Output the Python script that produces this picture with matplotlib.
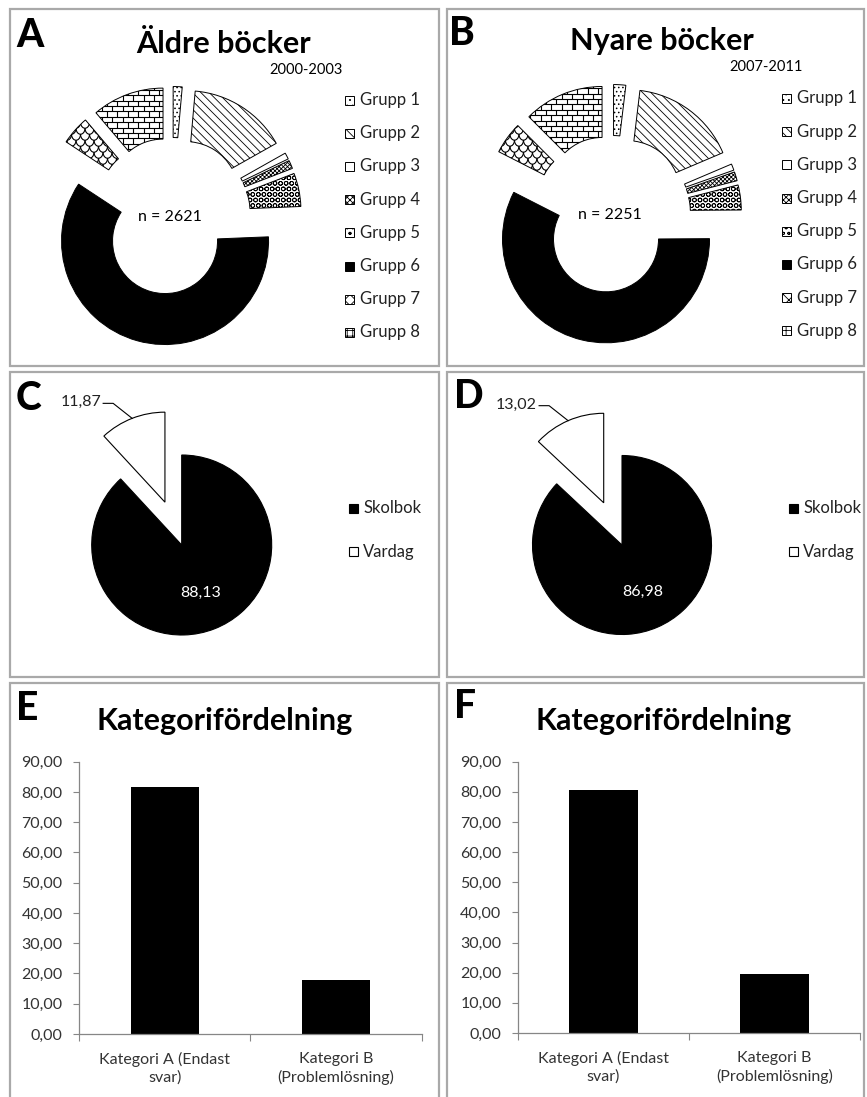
import numpy as np
import matplotlib
matplotlib.use("Agg")
import matplotlib.pyplot as plt
from matplotlib.patches import Rectangle
from matplotlib.collections import LineCollection

plt.rcParams['font.family'] = ['Lato', 'DejaVu Sans']
plt.rcParams['hatch.linewidth'] = 0.6

W, H = 867, 1097

# --- data ---
grupper = ['Grupp 1', 'Grupp 2', 'Grupp 3', 'Grupp 4',
           'Grupp 5', 'Grupp 6', 'Grupp 7', 'Grupp 8']
aldre = [1.4, 15.4, 1.0, 1.3, 5.2, 59.8, 4.5, 11.2]
nyare = [1.9, 16.7, 1.0, 1.4, 3.9, 57.6, 5.0, 12.5]
n_aldre = 2621
n_nyare = 2251

typer = ['Skolbok', 'Vardag']
typ_aldre = [88.13, 11.87]
typ_nyare = [86.98, 13.02]

kategorier = ['Kategori A (Endast\nsvar)', 'Kategori B\n(Problemlösning)']
kat_aldre = [81.7, 18.0]
kat_nyare = [80.5, 19.5]

# fill styles per group: (face, hatch); 'tegel' and 'fjall' are drawn by hand
stil = [('white', '....'), ('white', '\\\\\\\\'), ('white', ''), ('white', 'xxxxxxxx'),
        ('white', 'OOO'), ('black', ''), ('white', 'fjall'), ('white', 'tegel')]
legend_hatch = ['...', '\\\\\\\\', '', 'xxxxxx', 'ooo', '', 'xxx', '+++']

fig = plt.figure(figsize=(W / 100, H / 100), dpi=100)
ax = fig.add_axes([0, 0, 1, 1])


def Y(y):
    return H - y


# panel frames
rutor = [(10, 9, 439, 366), (447, 9, 864, 366),
         (10, 372, 439, 677), (447, 372, 864, 677),
         (10, 683, 439, 1100), (447, 683, 864, 1100)]
for x0, y0, x1, y1 in rutor:
    ax.add_patch(Rectangle((x0, Y(y1)), x1 - x0, y1 - y0, fill=False,
                           ec='#a9a9a9', lw=1.6, zorder=0))


def tegel(w, steg=5.4, bredd=10.5):
    cx, cy = w.center
    r = w.r
    segs = []
    for j, y in enumerate(np.arange(cy - r, cy + r, steg)):
        segs.append([(cx - r, y), (cx + r, y)])
        off = (j % 2) * bredd / 2
        for x in np.arange(cx - r + off, cx + r, bredd):
            segs.append([(x, y), (x, y + steg)])
    lc = LineCollection(segs, colors='black', linewidths=0.8, zorder=3)
    ax.add_collection(lc)
    lc.set_clip_path(w)


def fjall(w, steg=6.0, bredd=9.0):
    cx, cy = w.center
    r = w.r
    t = np.linspace(np.pi, 2 * np.pi, 10)
    segs = []
    for j, y in enumerate(np.arange(cy - r, cy + r, steg)):
        off = (j % 2) * bredd / 2
        for x in np.arange(cx - r + off, cx + r, bredd):
            segs.append(np.column_stack([x + bredd / 2 * np.cos(t),
                                         y + steg * np.sin(t)]))
    lc = LineCollection(segs, colors='black', linewidths=0.8, zorder=3)
    ax.add_collection(lc)
    lc.set_clip_path(w)


def munk(varden, cx, cy, n):
    wedges, _ = ax.pie(varden, radius=103.5, center=(cx, Y(cy)), startangle=90,
                       counterclock=False, explode=[26] * len(varden),
                       colors=[s[0] for s in stil], frame=True,
                       wedgeprops=dict(width=51, edgecolor='black', linewidth=0.7))
    for w, (_, h) in zip(wedges, stil):
        if h == 'tegel':
            tegel(w)
        elif h == 'fjall':
            fjall(w)
        elif h:
            w.set_hatch(h)
    # circles slice: dark ground with light rings where the patch supports it
    if hasattr(wedges[4], 'set_hatchcolor'):
        wedges[4].set_facecolor('#222222')
        wedges[4].set_hatch('OO')
        wedges[4].set_hatchcolor('white')
    ax.text(cx - 2, Y(cy + 1), f'n = {n}', ha='center', va='center', fontsize=11.5)


def grupp_legend(x, y0):
    for i, (g, (f, _)) in enumerate(zip(grupper, stil)):
        y = y0 + i * 33.2
        ax.add_patch(Rectangle((x, Y(y + 4.5)), 9, 9, fc=f, ec='black', lw=0.7,
                               hatch=legend_hatch[i]))
        ax.text(x + 15, Y(y), g, ha='left', va='center', fontsize=12, color='#222222')


def cirkel(varden, cx, cy, r, lx, ly):
    wedges, _ = ax.pie(varden, radius=r, center=(cx, Y(cy)), startangle=90,
                       counterclock=False, explode=[0, 46], colors=['black', 'white'],
                       frame=True, wedgeprops=dict(edgecolor='black', linewidth=0.8))
    stor, liten = wedges
    # value inside the big slice
    m = np.deg2rad((stor.theta1 + stor.theta2) / 2)
    ax.text(stor.center[0] + 0.57 * r * np.cos(m), stor.center[1] + 0.57 * r * np.sin(m),
            f'{varden[0]:.2f}'.replace('.', ','), color='white', fontsize=11.5,
            ha='center', va='center')
    # leader line to the detached slice
    m = np.deg2rad((liten.theta1 + liten.theta2) / 2)
    px = liten.center[0] + r * np.cos(m)
    py = liten.center[1] + r * np.sin(m)
    ax.plot([px, px - 19, px - 29], [py, py + 15, py + 15], color='black', lw=0.8)
    ax.text(px - 31, py + 16, f'{varden[1]:.2f}'.replace('.', ','), ha='right',
            va='center', fontsize=11.5, color='#222222')
    for i, (t, f) in enumerate(zip(typer, ['black', 'white'])):
        y = ly + i * 43.5
        ax.add_patch(Rectangle((lx, Y(y + 4.5)), 9, 9, fc=f, ec='black', lw=0.8))
        ax.text(lx + 14, Y(y), t, ha='left', va='center', fontsize=12, color='#222222')


# A and B: donuts
munk(aldre, 172, 216, n_aldre)
munk(nyare, 612, 214, n_nyare)
grupp_legend(345, 100)
grupp_legend(782, 98.5)
ax.text(224, Y(53), 'Äldre böcker', ha='center', va='baseline', fontsize=22,
        fontweight='bold')
ax.text(662, Y(50), 'Nyare böcker', ha='center', va='baseline', fontsize=22,
        fontweight='bold')
ax.text(306, Y(70), '2000-2003', ha='center', va='center', fontsize=10.5)
ax.text(766, Y(67), '2007-2011', ha='center', va='center', fontsize=10.5)

# C and D: pies
cirkel(typ_aldre, 181.7, 545, 90, 349, 508)
cirkel(typ_nyare, 622, 545, 89.5, 789, 508)

# panel letters
for bokstav, x, y in [('A', 16, 47), ('B', 449, 45), ('C', 16, 410),
                      ('D', 454, 408), ('E', 16, 720), ('F', 454, 718)]:
    ax.text(x, Y(y), bokstav, ha='left', va='baseline', fontsize=28,
            fontweight='black')

ax.set_xlim(0, W)
ax.set_ylim(0, H)
ax.axis('off')


# E and F: bar charts
def stapel(varden, x0, x1, ytop, ybot, tx):
    bx = fig.add_axes([x0 / W, 1 - ybot / H, (x1 - x0) / W, (ybot - ytop) / H])
    bx.patch.set_alpha(0)
    bx.bar(range(len(varden)), varden, width=0.4, color='black')
    bx.set_xlim(-0.5, len(varden) - 0.5)
    bx.set_ylim(0, 90)
    bx.set_yticks(np.arange(0, 91, 10))
    bx.set_yticklabels([f'{v:.2f}'.replace('.', ',') for v in np.arange(0, 91, 10)])
    bx.set_xticks(np.arange(-0.5, len(varden)), labels=[])
    bx.set_xticks(range(len(varden)), minor=True)
    bx.set_xticklabels(kategorier, minor=True, linespacing=1.3)
    bx.tick_params(axis='x', which='minor', length=0, pad=13, labelsize=11.5,
                   labelcolor='#333333')
    bx.tick_params(axis='x', which='major', length=5, direction='out', color='#868686')
    bx.tick_params(axis='y', length=4, direction='out', color='#868686', pad=8,
                   labelsize=11.5, labelcolor='#333333')
    for s in ['top', 'right']:
        bx.spines[s].set_visible(False)
    for s in ['left', 'bottom']:
        bx.spines[s].set_color('#868686')
        bx.spines[s].set_linewidth(0.9)
    fig.text(tx / W, 1 - 730 / H, 'Kategorifördelning', ha='center', va='baseline',
             fontsize=22, fontweight='bold')


stapel(kat_aldre, 79.3, 421.7, 761.7, 1034, 225)
stapel(kat_nyare, 518, 860, 761.7, 1033, 664)

fig.savefig('out.png', dpi=100)
